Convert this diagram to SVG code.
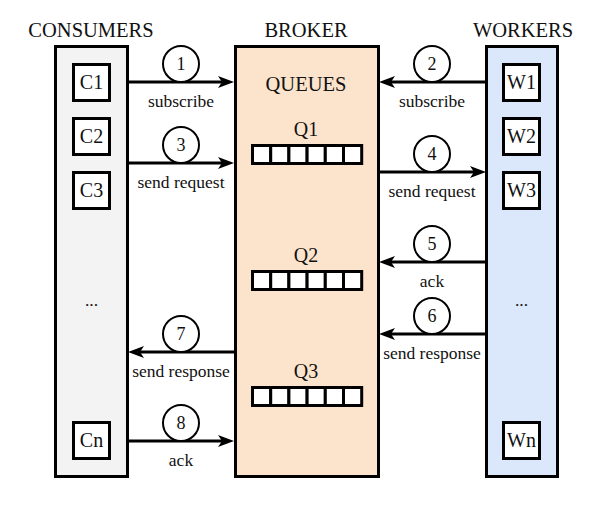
<svg xmlns="http://www.w3.org/2000/svg" width="600" height="510" viewBox="0 0 600 510">
<style>
text{font-family:"Liberation Serif","Times New Roman",serif;fill:#111;text-anchor:middle}
.title{font-size:20.5px}
.lbl{font-size:17.5px}
.box{font-size:20px}
.num{font-size:18px}
.col{stroke:#000;stroke-width:3}
.item{fill:#fff;stroke:#000;stroke-width:3}
.cell{fill:#fff;stroke:#000;stroke-width:3}
.conn{stroke:#000;stroke-width:3;fill:none;marker-end:url(#ah)}
.badge{fill:#fff;stroke:#000;stroke-width:2}
</style>
<defs>
<marker id="ah" markerUnits="userSpaceOnUse" markerWidth="16" markerHeight="12" refX="4" refY="6" orient="auto" overflow="visible">
<path d="M0,0 L16,6 L0,12 L4,6 Z" fill="#000"/>
</marker>
<g id="qcells">
<rect class="cell" x="0" y="0" width="18.2" height="18"/>
<rect class="cell" x="18.2" y="0" width="18.2" height="18"/>
<rect class="cell" x="36.4" y="0" width="18.2" height="18"/>
<rect class="cell" x="54.6" y="0" width="18.2" height="18"/>
<rect class="cell" x="72.8" y="0" width="18.2" height="18"/>
<rect class="cell" x="91" y="0" width="18.2" height="18"/>
</g>
</defs>
<rect width="600" height="510" fill="#fff"/>

<g id="consumers">
<text class="title" x="91" y="37">CONSUMERS</text>
<rect class="col" x="55.5" y="46.5" width="72" height="430" fill="#f3f3f3"/>
<g id="c1"><rect class="item" x="73.5" y="64.5" width="36" height="36"/><text class="box" x="91.5" y="89">C1</text></g>
<g id="c2"><rect class="item" x="73.5" y="118.5" width="36" height="36"/><text class="box" x="91.5" y="143">C2</text></g>
<g id="c3"><rect class="item" x="73.5" y="172.5" width="36" height="36"/><text class="box" x="91.5" y="197">C3</text></g>
<text class="lbl" x="91.5" y="306">...</text>
<g id="cn"><rect class="item" x="73.5" y="422.5" width="36" height="36"/><text class="box" x="91.5" y="447">Cn</text></g>
</g>

<g id="broker">
<text class="title" x="306" y="37">BROKER</text>
<rect class="col" x="235.5" y="46.5" width="143" height="430" fill="#fce4cc"/>
<text class="title" x="306" y="91">QUEUES</text>
<g id="q1"><text class="box" x="306" y="136">Q1</text><use href="#qcells" x="252.5" y="145.5"/></g>
<g id="q2"><text class="box" x="306" y="262">Q2</text><use href="#qcells" x="252.5" y="271.5"/></g>
<g id="q3"><text class="box" x="306" y="378">Q3</text><use href="#qcells" x="252.5" y="387.5"/></g>
</g>

<g id="workers">
<text class="title" x="523" y="37">WORKERS</text>
<rect class="col" x="486.5" y="46.5" width="71" height="430" fill="#dbe8fb"/>
<g id="w1"><rect class="item" x="503.5" y="64.5" width="36" height="36"/><text class="box" x="521.5" y="89">W1</text></g>
<g id="w2"><rect class="item" x="503.5" y="118.5" width="36" height="36"/><text class="box" x="521.5" y="143">W2</text></g>
<g id="w3"><rect class="item" x="503.5" y="172.5" width="36" height="36"/><text class="box" x="521.5" y="197">W3</text></g>
<text class="lbl" x="521.5" y="306">...</text>
<g id="wn"><rect class="item" x="503.5" y="422.5" width="36" height="36"/><text class="box" x="521.5" y="447">Wn</text></g>
</g>

<g id="connectors">
<line class="conn" x1="128" y1="82" x2="222" y2="82"/>
<circle class="badge" cx="181" cy="64" r="18"/><text class="num" x="181" y="70">1</text>
<text class="lbl" x="181" y="107">subscribe</text>

<line class="conn" x1="486" y1="82" x2="391" y2="82"/>
<circle class="badge" cx="432" cy="64" r="18"/><text class="num" x="432" y="70">2</text>
<text class="lbl" x="432" y="107">subscribe</text>

<line class="conn" x1="128" y1="163" x2="222" y2="163"/>
<circle class="badge" cx="181" cy="145" r="18"/><text class="num" x="181" y="151">3</text>
<text class="lbl" x="181" y="188">send request</text>

<line class="conn" x1="379" y1="172" x2="474" y2="172"/>
<circle class="badge" cx="432" cy="154" r="18"/><text class="num" x="432" y="160">4</text>
<text class="lbl" x="432" y="197">send request</text>

<line class="conn" x1="486" y1="262" x2="391" y2="262"/>
<circle class="badge" cx="432" cy="244" r="18"/><text class="num" x="432" y="250">5</text>
<text class="lbl" x="432" y="287">ack</text>

<line class="conn" x1="486" y1="334" x2="391" y2="334"/>
<circle class="badge" cx="432" cy="316" r="18"/><text class="num" x="432" y="322">6</text>
<text class="lbl" x="432" y="359">send response</text>

<line class="conn" x1="234" y1="352" x2="140" y2="352"/>
<circle class="badge" cx="181" cy="334" r="18"/><text class="num" x="181" y="340">7</text>
<text class="lbl" x="181" y="377">send response</text>

<line class="conn" x1="128" y1="441" x2="222" y2="441"/>
<circle class="badge" cx="181" cy="423" r="18"/><text class="num" x="181" y="429">8</text>
<text class="lbl" x="181" y="466">ack</text>
</g>
</svg>
